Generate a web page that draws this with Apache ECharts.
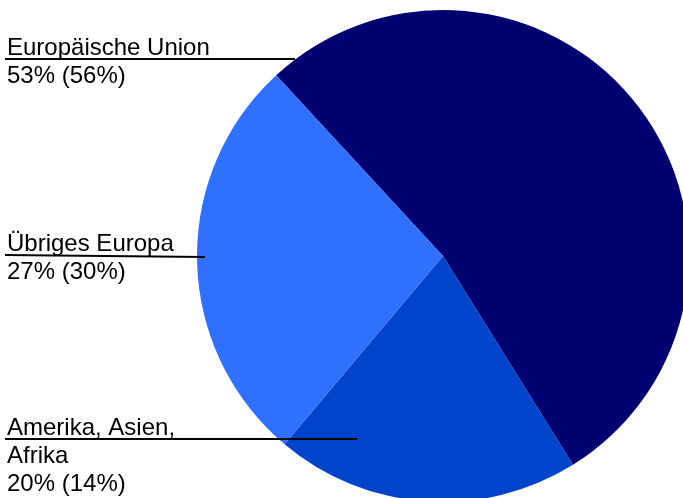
<!DOCTYPE html>
<html>
<head>
<meta charset="utf-8">
<script src="https://cdn.jsdelivr.net/npm/echarts@6/dist/echarts.min.js"></script>
<style>html,body{margin:0;padding:0;background:#fff}#c{width:683px;height:498px}</style>
</head>
<body>
<div id="c"></div>
<script>
// Data (clockwise order from the slice at upper left)
const categories = ["Europäische Union", "Amerika, Asien,\nAfrika", "Übriges Europa"];
const shares = [53, 20, 27];
const previousShares = [56, 14, 30];
const colors = ["#000070", "#0044CC", "#2F70FF"];

// label placement (pixels)
const labelTop = [34, 414, 230];
const lineY = [[59, 59], [439, 439], [255, 257]];
const lineEndX = [295, 357, 205];

const base = {
  type: 'pie',
  center: [443, 256],
  radius: 246,
  startAngle: 132.7,
  clockwise: true,
  avoidLabelOverlap: false,
  silent: true
};

const chart = echarts.init(document.getElementById('c'), null, {renderer: 'canvas'});
chart.setOption({
  animation: false,
  series: [
    Object.assign({}, base, {
      z: 2,
      data: categories.map((n, i) => ({name: n, value: shares[i], itemStyle: {color: colors[i]}})),
      itemStyle: {borderWidth: 0},
      label: {show: false},
      labelLine: {show: false}
    }),
    Object.assign({}, base, {
      z: 5,
      data: categories.map((n, i) => ({name: n, value: shares[i], prev: previousShares[i]})),
      itemStyle: {color: 'rgba(0,0,0,0)', borderWidth: 0},
      label: {
        show: true,
        position: 'outside',
        formatter: p => p.name + '\n' + p.value + '% (' + p.data.prev + '%)',
        fontFamily: '"Liberation Sans", Arial, sans-serif',
        fontSize: 24,
        lineHeight: 28,
        color: '#000',
        align: 'left'
      },
      labelLine: {show: true, lineStyle: {color: '#000', width: 2}, smooth: false},
      labelLayout: p => ({
        x: 7,
        y: labelTop[p.dataIndex],
        align: 'left',
        verticalAlign: 'top',
        labelLinePoints: [[5, lineY[p.dataIndex][0]], [5, lineY[p.dataIndex][0]], [lineEndX[p.dataIndex], lineY[p.dataIndex][1]]]
      })
    })
  ]
});
</script>
</body>
</html>
